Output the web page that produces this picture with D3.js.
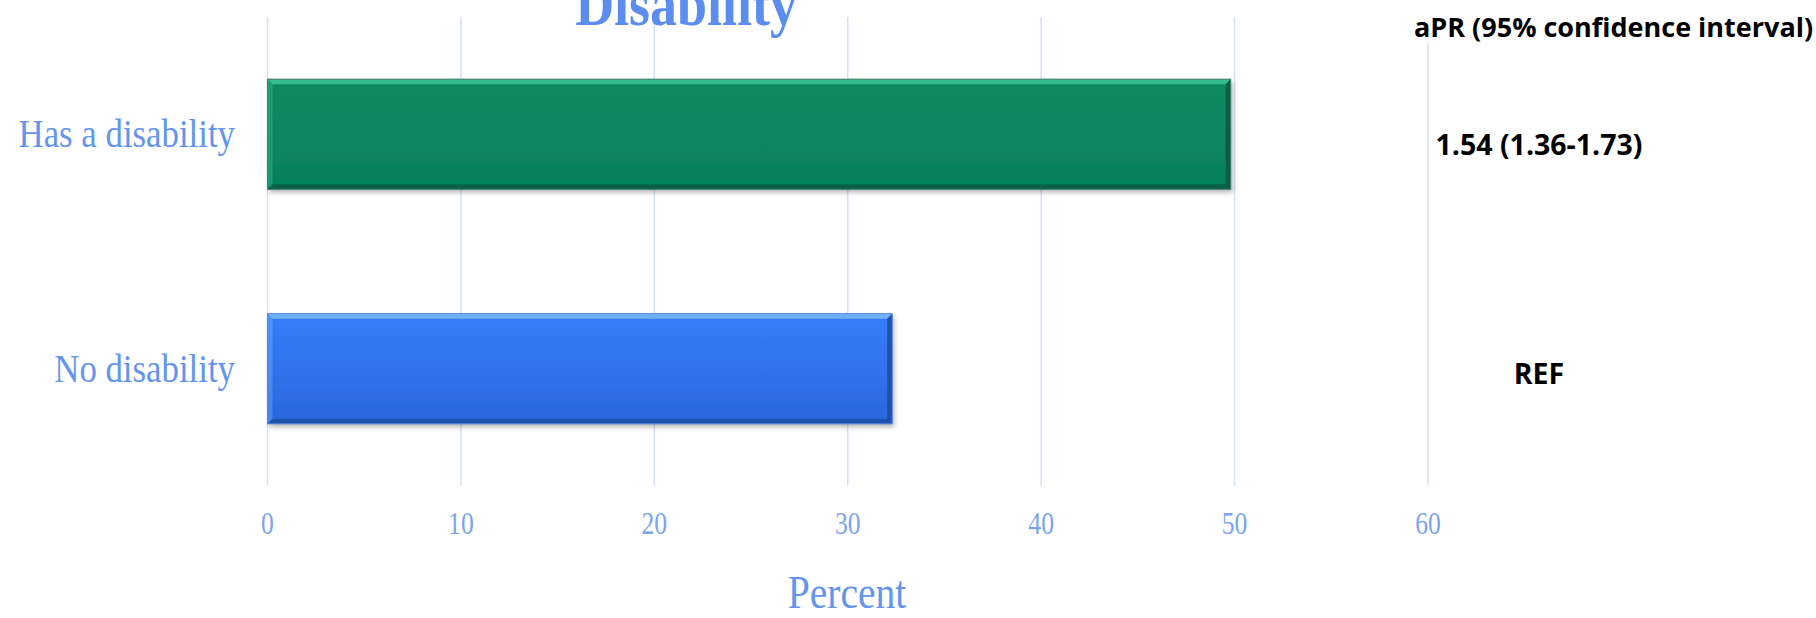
<html>
<head>
<meta charset="utf-8">
<script src="https://cdn.jsdelivr.net/npm/d3@7"></script>
<style>
body { margin: 0; background: #fff; }
#chart { width: 1816px; height: 618px; }
</style>
</head>
<body>
<div id="chart"></div>
<script>
// values
var categories = ["Has a disability", "No disability"];
var percents = [49.8, 32.3];
var aprLabels = ["1.54 (1.36-1.73)", "REF"];
var xTicks = [0, 10, 20, 30, 40, 50, 60];
var titleText = "Disability";
var aprHeader = "aPR (95% confidence interval)";
var xTitle = "Percent";

var barStyles = [
  {top: "#0a8b62", bottom: "#06815b", light: "#3fc497", dark: "#0b5a43", edge: "#4f7f70"},
  {top: "#377dfb", bottom: "#2a67dc", light: "#78baff", dark: "#1d4ba3", edge: "#5a86d8"}
];

var W = 1816, H = 618;
var blue = "#6495ed";

var svg = d3.select("#chart").append("svg")
  .attr("width", W).attr("height", H);

var defs = svg.append("defs");
var f = defs.append("filter").attr("id", "shadow")
  .attr("x", "-5%").attr("y", "-20%").attr("width", "115%").attr("height", "150%");
f.append("feDropShadow").attr("dx", 2).attr("dy", 3).attr("stdDeviation", 2.5)
  .attr("flood-color", "#000").attr("flood-opacity", 0.3);

barStyles.forEach(function(s, i) {
  var g = defs.append("linearGradient").attr("id", "grad" + i)
    .attr("x1", 0).attr("y1", 0).attr("x2", 0).attr("y2", 1);
  g.append("stop").attr("offset", "0%").attr("stop-color", s.top);
  g.append("stop").attr("offset", "100%").attr("stop-color", s.bottom);
});

var x = d3.scaleLinear().domain([0, 60]).range([267.5, 1428]);
var y = d3.scaleBand().domain(categories).range([17, 486])
  .paddingInner(0.53).paddingOuter(0.265);

// gridlines
svg.append("g").selectAll("line")
  .data(xTicks).enter().append("line")
  .attr("x1", function(d){ return x(d); })
  .attr("x2", function(d){ return x(d); })
  .attr("y1", 17).attr("y2", 486)
  .style("stroke", "#d5e1f7").style("stroke-width", 1.5);

// tick labels (condensed serif look)
svg.append("g").selectAll("text")
  .data(xTicks).enter().append("text")
  .attr("transform", function(d){ return "translate(" + x(d) + ",534) scale(0.8,1)"; })
  .attr("text-anchor", "middle")
  .style("font-family", "'Liberation Serif', serif")
  .style("font-size", "32px")
  .style("fill", "#7aa3f0")
  .text(function(d){ return d; });

// category labels
svg.append("g").selectAll("text")
  .data(categories).enter().append("text")
  .attr("transform", function(d){ return "translate(235," + (y(d) + y.bandwidth()/2 + 13) + ") scale(0.87,1)"; })
  .attr("text-anchor", "end")
  .style("font-family", "'Liberation Serif', serif")
  .style("font-size", "40px")
  .style("fill", blue)
  .text(function(d){ return d; });

// bars with a bevel look
var bev = 5;
var bars = svg.append("g").selectAll("g.bar")
  .data(categories).enter().append("g")
  .attr("class", "bar");

bars.each(function(c, i) {
  var s = barStyles[i];
  var x0 = x(0), x1 = x(percents[i]);
  var y0 = y(c), y1 = y(c) + y.bandwidth();
  var b = d3.select(this);
  b.append("rect")
    .attr("x", x0).attr("y", y0)
    .attr("width", x1 - x0).attr("height", y1 - y0)
    .attr("fill", "url(#grad" + i + ")")
    .attr("filter", "url(#shadow)");
  // top bevel
  b.append("polygon")
    .attr("points", [[x0,y0],[x1,y0],[x1-bev,y0+bev],[x0+bev,y0+bev]].join(" "))
    .attr("fill", s.light).attr("opacity", 0.85);
  // left bevel
  b.append("polygon")
    .attr("points", [[x0,y0],[x0+bev,y0+bev],[x0+bev,y1-bev],[x0,y1]].join(" "))
    .attr("fill", s.light).attr("opacity", 0.35);
  // bottom bevel
  b.append("polygon")
    .attr("points", [[x0,y1],[x0+bev,y1-bev],[x1-bev,y1-bev],[x1,y1]].join(" "))
    .attr("fill", s.dark).attr("opacity", 0.8);
  // right bevel
  b.append("polygon")
    .attr("points", [[x1,y0],[x1,y1],[x1-bev,y1-bev],[x1-bev,y0+bev]].join(" "))
    .attr("fill", s.dark).attr("opacity", 0.9);
  b.append("rect")
    .attr("x", x0).attr("y", y0)
    .attr("width", x1 - x0).attr("height", y1 - y0)
    .attr("fill", "none").attr("stroke", s.edge).attr("stroke-width", 1);
});

// aPR column
svg.append("rect").attr("x", 1410).attr("y", 8).attr("width", 406).attr("height", 34)
  .attr("fill", "#fff");
svg.append("text")
  .attr("x", 1414).attr("y", 37)
  .style("font-family", "'Open Sans', sans-serif")
  .style("font-weight", "bold")
  .style("font-size", "27px")
  .style("fill", "#000")
  .text(aprHeader);

svg.append("g").selectAll("text")
  .data(aprLabels).enter().append("text")
  .attr("x", 1539)
  .attr("y", function(d, i){ return y(categories[i]) + y.bandwidth()/2 + (i === 0 ? 21 : 15); })
  .attr("text-anchor", "middle")
  .style("font-family", "'Open Sans', sans-serif")
  .style("font-weight", "bold")
  .style("font-size", "28.5px")
  .style("fill", "#000")
  .text(function(d){ return d; });

// title, partly cut off at the top (as in the original)
svg.append("text")
  .attr("transform", "translate(686,25) scale(0.87,1)")
  .attr("text-anchor", "middle")
  .style("font-family", "'Liberation Serif', serif")
  .style("font-weight", "bold")
  .style("font-size", "62px")
  .style("fill", "#5b8def")
  .text(titleText);

// axis title
svg.append("text")
  .attr("transform", "translate(847,608) scale(0.86,1)")
  .attr("text-anchor", "middle")
  .style("font-family", "'Liberation Serif', serif")
  .style("font-size", "46px")
  .style("fill", blue)
  .text(xTitle);
</script>
</body>
</html>
